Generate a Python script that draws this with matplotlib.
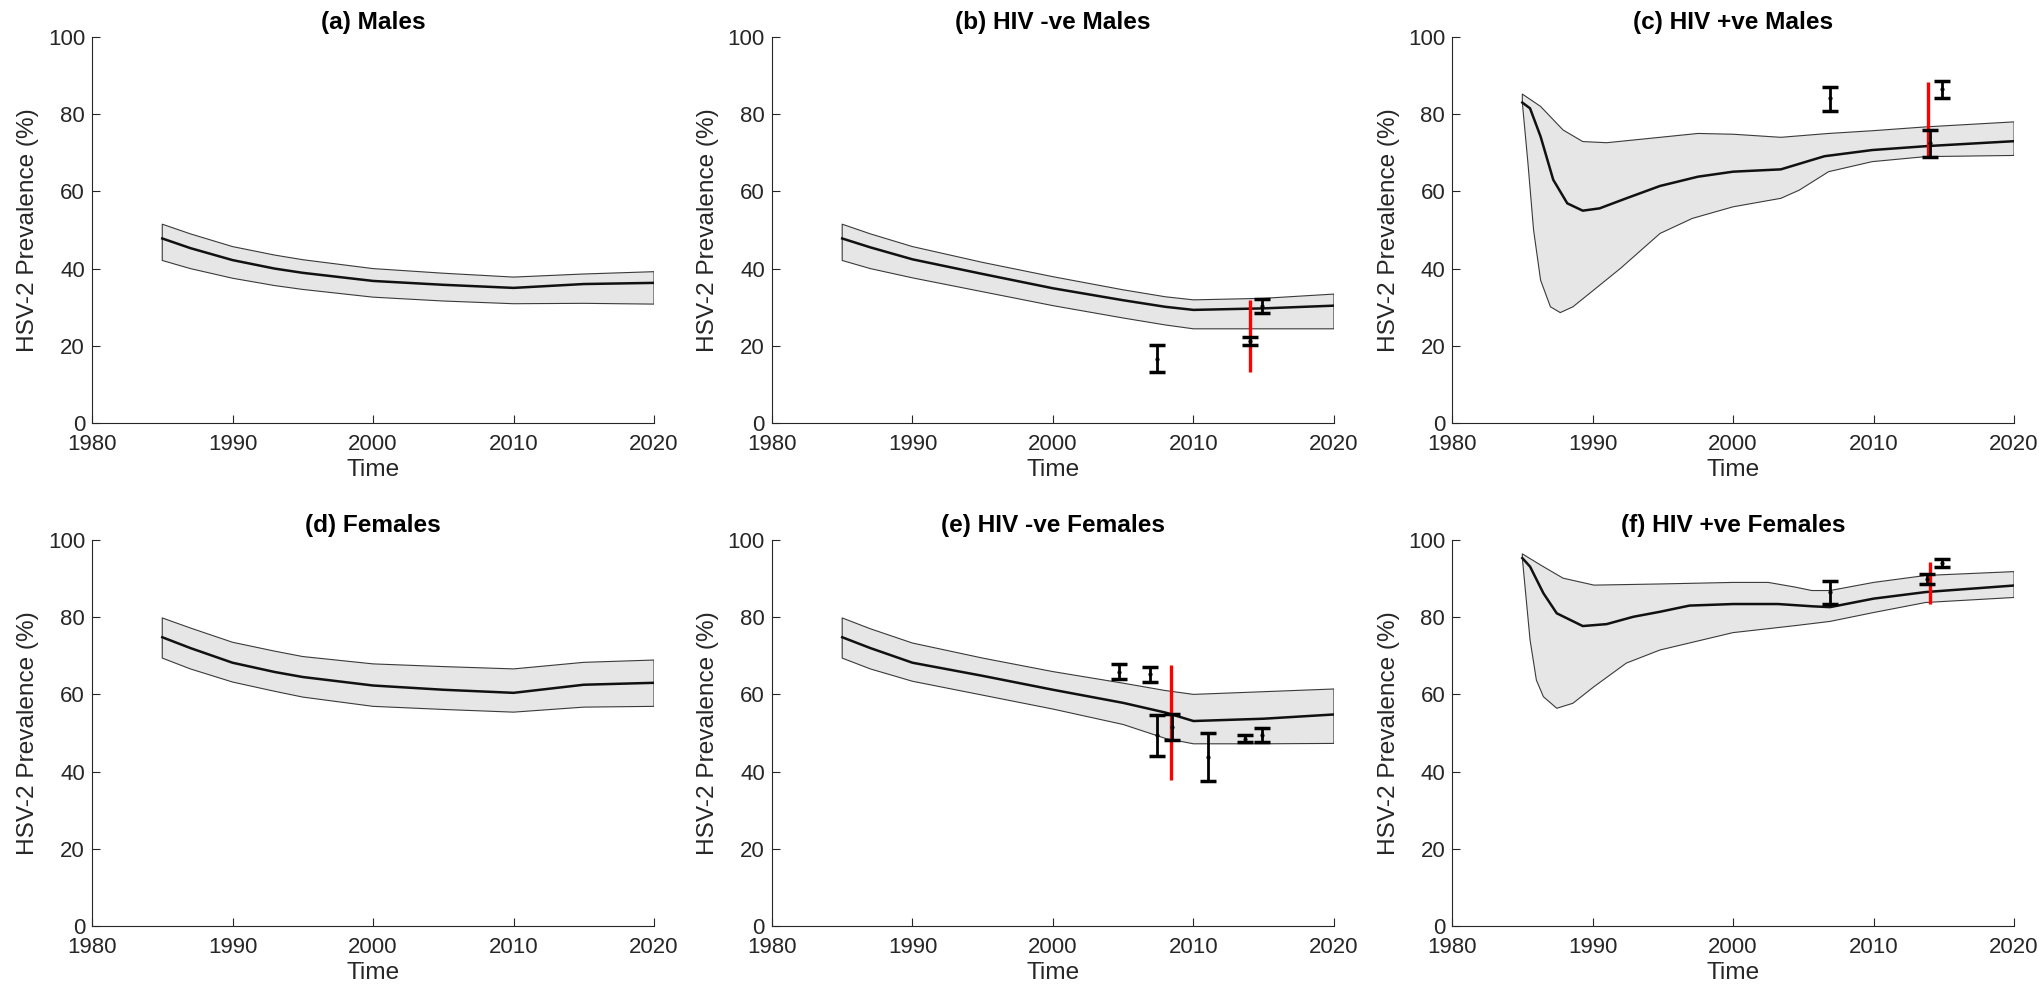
import matplotlib
matplotlib.use("Agg")
import matplotlib.pyplot as plt

plt.rcParams['font.family'] = ['Liberation Sans', 'DejaVu Sans']

# ---- model output: years, median, lower and upper bounds (HSV-2 prevalence, %) ----
yrs_smooth = [1985, 1987, 1990, 1993, 1995, 2000, 2005, 2010, 2015, 2020]
males_mid = [47.8, 45.3, 42.2, 40.0, 38.9, 36.8, 35.8, 35.0, 36.0, 36.3]
males_lo = [42.1, 40.0, 37.5, 35.6, 34.6, 32.6, 31.6, 30.9, 31.0, 30.8]
males_hi = [51.5, 49.0, 45.7, 43.5, 42.3, 40.0, 38.8, 37.8, 38.6, 39.2]

females_mid = [74.8, 72.0, 68.2, 65.8, 64.5, 62.3, 61.2, 60.4, 62.5, 63.0]
females_lo = [69.4, 66.6, 63.2, 60.8, 59.3, 56.9, 56.1, 55.4, 56.7, 56.9]
females_hi = [79.8, 77.2, 73.5, 71.2, 69.8, 67.9, 67.2, 66.6, 68.3, 68.9]

yrs_neg = [1985, 1987, 1990, 1995, 2000, 2005, 2008, 2010, 2015, 2020]
neg_m_mid = [47.8, 45.5, 42.4, 38.6, 34.9, 31.8, 30.1, 29.3, 29.7, 30.4]
neg_m_lo = [42.1, 40.0, 37.6, 34.0, 30.4, 27.2, 25.4, 24.4, 24.4, 24.4]
neg_m_hi = [51.5, 49.0, 45.7, 41.6, 37.9, 34.5, 32.7, 31.9, 32.3, 33.4]

neg_f_mid = [74.8, 72.0, 68.2, 64.8, 61.2, 57.8, 55.3, 53.1, 53.7, 54.8]
neg_f_lo = [69.4, 66.6, 63.4, 59.8, 56.2, 52.2, 48.6, 47.2, 47.2, 47.3]
neg_f_hi = [79.8, 77.0, 73.3, 69.4, 65.9, 62.9, 61.0, 60.0, 60.7, 61.4]

pos_m_yrs_mid = [1985, 1985.55, 1986.3, 1987.2, 1988.2, 1989.3, 1990.5, 1992.4, 1994.8,
                 1997.5, 2000, 2003.4, 2006.5, 2009.9, 2013.7, 2020]
pos_m_mid = [83.0, 81.5, 74.2, 63.0, 56.9, 55.0, 55.6, 58.2, 61.4,
             63.8, 65.1, 65.7, 69.1, 70.7, 71.7, 73.0]
pos_m_yrs_lo = [1985, 1985.4, 1985.8, 1986.3, 1987.0, 1987.7, 1988.6, 1990.1, 1992.0,
                1994.8, 1997.1, 2000, 2003.4, 2004.7, 2006.8, 2009.9, 2013.7, 2020]
pos_m_lo = [83.0, 67.3, 50.0, 37.0, 30.1, 28.6, 30.1, 34.5, 40.1,
            49.1, 53.0, 56.0, 58.2, 60.3, 65.1, 67.7, 69.0, 69.3]
pos_m_yrs_hi = [1985, 1986.3, 1987.9, 1989.3, 1991.0, 1994.8, 1997.5, 2000, 2003.4,
                2006.8, 2009.9, 2013.7, 2020]
pos_m_hi = [85.2, 82.0, 75.9, 72.9, 72.6, 74.0, 75.0, 74.8, 74.0,
            75.0, 75.7, 76.7, 78.0]

pos_f_yrs_mid = [1985, 1985.55, 1986.5, 1987.45, 1989.3, 1991.0, 1992.9, 1994.8, 1996.9,
                 2000, 2003.2, 2005.7, 2006.9, 2010, 2013.7, 2020]
pos_f_mid = [95.3, 93.1, 86.2, 81.0, 77.7, 78.2, 80.1, 81.4, 83.0,
             83.4, 83.4, 82.8, 82.6, 84.8, 86.5, 88.2]
pos_f_yrs_lo = [1985, 1985.55, 1986.0, 1986.5, 1987.45, 1988.6, 1990.1, 1992.4, 1994.8,
                2000, 2004.4, 2006.9, 2010, 2013.7, 2020]
pos_f_lo = [95.3, 74.1, 63.7, 59.4, 56.4, 57.7, 62.0, 68.1, 71.5,
            76.0, 77.8, 78.9, 81.2, 83.8, 85.1]
pos_f_yrs_hi = [1985, 1986.3, 1987.9, 1990.1, 1994.8, 2000, 2002.5, 2004.4, 2005.6,
                2006.9, 2010, 2013.7, 2020]
pos_f_hi = [96.4, 93.5, 90.1, 88.3, 88.6, 89.0, 89.0, 87.8, 86.9,
            86.9, 89.0, 90.8, 91.8]

# ---- observed data: year, estimate, lower, upper ----
obs_neg_m_yr = [2007.4, 2014.0, 2014.9]
obs_neg_m_val = [16.6, 21.3, 30.3]
obs_neg_m_lo = [13.1, 20.3, 28.4]
obs_neg_m_hi = [20.3, 22.4, 32.2]

obs_pos_m_yr = [2006.9, 2014.0, 2014.9]
obs_pos_m_val = [84.3, 72.4, 86.6]
obs_pos_m_lo = [80.9, 68.8, 84.2]
obs_pos_m_hi = [87.1, 76.0, 88.6]

obs_neg_f_yr = [2004.7, 2006.9, 2007.4, 2008.5, 2011.0, 2013.7, 2014.9]
obs_neg_f_val = [65.9, 65.3, 49.4, 51.5, 43.7, 48.5, 49.6]
obs_neg_f_lo = [64.0, 63.2, 44.0, 48.2, 37.5, 47.6, 47.6]
obs_neg_f_hi = [67.9, 67.2, 54.7, 55.0, 50.0, 49.6, 51.3]

obs_pos_f_yr = [2006.9, 2013.8, 2014.9]
obs_pos_f_val = [86.5, 90.0, 94.0]
obs_pos_f_lo = [83.4, 88.6, 92.9]
obs_pos_f_hi = [89.3, 91.1, 95.1]

# red ranges: year, low, high
red_neg_m = [2014.0, 13.1, 31.9]
red_pos_m = [2013.9, 69.0, 88.4]
red_neg_f = [2008.4, 37.7, 67.7]
red_pos_f = [2014.0, 83.4, 94.2]

titles = ['(a) Males', '(b) HIV -ve Males', '(c) HIV +ve Males',
          '(d) Females', '(e) HIV -ve Females', '(f) HIV +ve Females']

fig = plt.figure(figsize=(20.4, 9.9), dpi=100)
lefts = [0.0451, 0.3784, 0.7118]
bottoms = [0.5727, 0.0646]
w, h = 0.2755, 0.390


def band(ax, yl, lo, yh, hi, ym, mid):
    xs = list(yh) + list(yl)[::-1]
    ys = list(hi) + list(lo)[::-1]
    ax.fill(xs, ys, facecolor='#e6e6e6', edgecolor='#3a3a3a', linewidth=0.8,
            joinstyle='round', zorder=1)
    ax.plot(ym, mid, color='#111111', linewidth=1.8, solid_joinstyle='round', zorder=2)


def data(ax, yr, val, lo, hi, red):
    err = [[v - l for v, l in zip(val, lo)], [u - v for v, u in zip(val, hi)]]
    ax.vlines(red[0], red[1], red[2], color='#ff0000', linewidth=2.4, zorder=3)
    ax.errorbar(yr, val, yerr=err, fmt='.', color='black', markersize=4,
                elinewidth=2, capsize=5.5, capthick=2.5, zorder=4)


axes = []
for r in range(2):
    for c in range(3):
        ax = fig.add_axes([lefts[c], bottoms[r], w, h])
        axes.append(ax)

band(axes[0], yrs_smooth, males_lo, yrs_smooth, males_hi, yrs_smooth, males_mid)
band(axes[1], yrs_neg, neg_m_lo, yrs_neg, neg_m_hi, yrs_neg, neg_m_mid)
band(axes[2], pos_m_yrs_lo, pos_m_lo, pos_m_yrs_hi, pos_m_hi, pos_m_yrs_mid, pos_m_mid)
band(axes[3], yrs_smooth, females_lo, yrs_smooth, females_hi, yrs_smooth, females_mid)
band(axes[4], yrs_neg, neg_f_lo, yrs_neg, neg_f_hi, yrs_neg, neg_f_mid)
band(axes[5], pos_f_yrs_lo, pos_f_lo, pos_f_yrs_hi, pos_f_hi, pos_f_yrs_mid, pos_f_mid)

data(axes[1], obs_neg_m_yr, obs_neg_m_val, obs_neg_m_lo, obs_neg_m_hi, red_neg_m)
data(axes[2], obs_pos_m_yr, obs_pos_m_val, obs_pos_m_lo, obs_pos_m_hi, red_pos_m)
data(axes[4], obs_neg_f_yr, obs_neg_f_val, obs_neg_f_lo, obs_neg_f_hi, red_neg_f)
data(axes[5], obs_pos_f_yr, obs_pos_f_val, obs_pos_f_lo, obs_pos_f_hi, red_pos_f)

for ax, t in zip(axes, titles):
    ax.set_xlim(1980, 2020)
    ax.set_ylim(0, 100)
    ax.set_xticks([1980, 1990, 2000, 2010, 2020])
    ax.set_yticks([0, 20, 40, 60, 80, 100])
    ax.spines['top'].set_visible(False)
    ax.spines['right'].set_visible(False)
    for s in ['left', 'bottom']:
        ax.spines[s].set_color('#262626')
        ax.spines[s].set_linewidth(0.8)
    ax.tick_params(direction='in', length=6, width=0.8, color='#262626',
                   labelsize=16, labelcolor='#262626')
    ax.tick_params(axis='x', pad=8)
    ax.tick_params(axis='y', pad=5)
    ax.set_title(t, fontsize=17.6, fontweight='bold', pad=6, color='black')
    ax.set_xlabel('Time', fontsize=17.6, color='#262626', labelpad=3)
    ax.set_ylabel('HSV-2 Prevalence (%)', fontsize=17.6, color='#262626', labelpad=6)

fig.savefig('out.png', dpi=100)
